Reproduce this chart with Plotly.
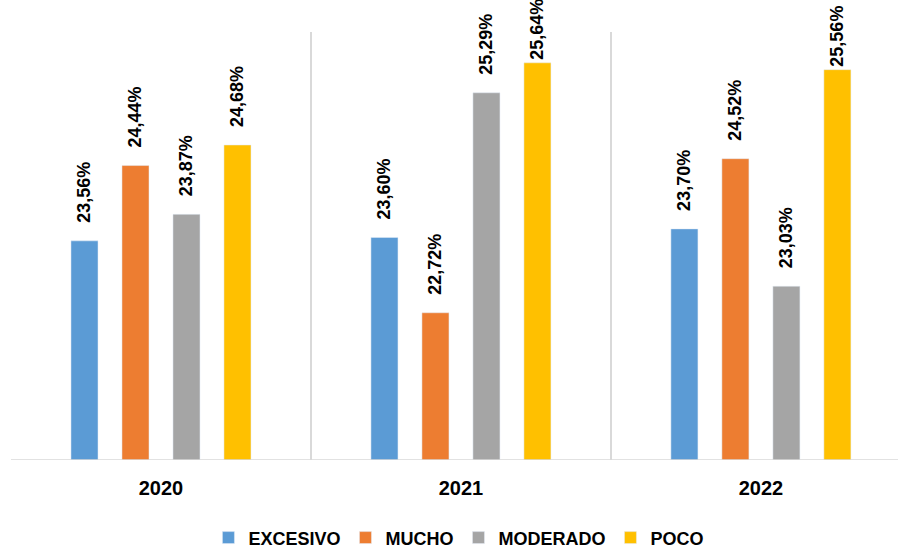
import plotly.graph_objects as go

years = ["2020", "2021", "2022"]
series_names = ["EXCESIVO", "MUCHO", "MODERADO", "POCO"]
excesivo = [23.56, 23.60, 23.70]
mucho = [24.44, 22.72, 24.52]
moderado = [23.87, 25.29, 23.03]
poco = [24.68, 25.64, 25.56]
colors = ["#5B9BD5", "#ED7D31", "#A5A5A5", "#FFC000"]

values = [excesivo, mucho, moderado, poco]
xpos = list(range(len(years)))

FONT = "Liberation Sans, Arial, sans-serif"


def label(v):
    # extra gap above the bar unless the label would run past the top of the chart
    pad = "\u00a0\u00a0\u00a0" if v < 25.5 else ""
    return pad + f"{v:.2f}".replace(".", ",") + "%"


fig = go.Figure()
for name, vals, col in zip(series_names, values, colors):
    fig.add_trace(go.Bar(
        x=xpos, y=vals, name=name, marker_color=col,
        base=0,
        text=[label(v) for v in vals], texttemplate="%{text}", textposition="outside",
        textangle=-90, cliponaxis=False, constraintext="none",
        textfont=dict(family=FONT, size=18, color="black", weight="bold"),
    ))

fig.update_layout(
    width=898, height=549,
    margin=dict(l=11, r=0, t=32, b=89, autoexpand=False),
    barmode="group", bargap=0.32, bargroupgap=0.47,
    separators=",.",
    plot_bgcolor="white", paper_bgcolor="white",
    showlegend=True,
    legend=dict(orientation="h", x=0.505, xanchor="center", y=-0.182, yanchor="middle",
                font=dict(family=FONT, size=18, color="black", weight="bold"),
                traceorder="normal"),
)
fig.update_xaxes(
    range=[-0.5, 2.457], tickvals=xpos, ticktext=years,
    tickfont=dict(family=FONT, size=20, color="black", weight="bold"),
    ticklabelstandoff=14,
    showgrid=False, zeroline=False, showline=False, ticks="",
    minor=dict(tickvals=[i - 0.5 for i in xpos], showgrid=True, gridcolor="#D9D9D9", gridwidth=1.5),
)
fig.update_yaxes(range=[21, 26], showticklabels=False, showgrid=False,
                 zeroline=False, showline=False, ticks="")
fig.add_hline(y=21, line_color="#D9D9D9", line_width=1.5)

fig.write_html("out.html")
